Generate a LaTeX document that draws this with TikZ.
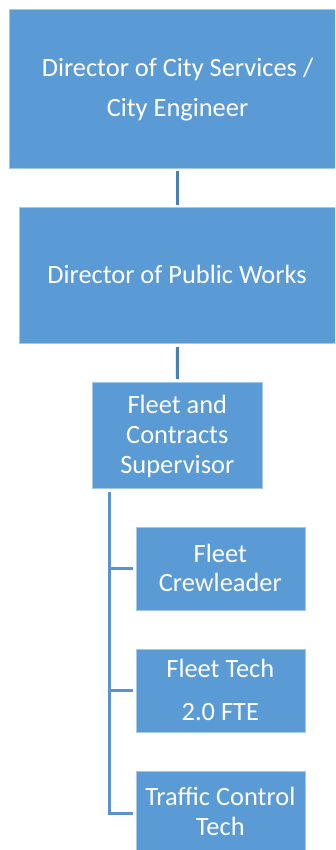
\documentclass[tikz,border=0pt]{standalone}
\usepackage{fontspec}
\setmainfont{Carlito}
\definecolor{boxblue}{HTML}{5B9BD5}
\definecolor{linkdark}{HTML}{4A7EB6}
\definecolor{linktree}{HTML}{5A93CD}
\begin{document}
\begin{tikzpicture}[x=1pt, y=-1pt,
  orgbox/.style={fill=boxblue, draw=white!45!boxblue, line width=0.8pt, inner sep=0pt},
  lbl/.style={text=white, anchor=base, inner sep=0pt, font=\fontsize{26.4}{30}\selectfont},
  upper link/.style={draw=linkdark, line width=3pt},
  tree link/.style={draw=linktree, line width=3pt}]
  \useasboundingbox (0,0) rectangle (335,850);
  \clip (0,0) rectangle (335,850);
  \fill[white] (0,0) rectangle (335,850);

  % boxes
  \node[orgbox, minimum width=337pt, minimum height=159pt] (dcs) at (177.5,88.5) {};
  \node[orgbox, minimum width=317pt, minimum height=136pt] (dpw) at (177.5,275) {};
  \node[orgbox, minimum width=169.3pt, minimum height=105.3pt] (fcs) at (177.4,435.35) {};
  \node[orgbox, minimum width=169pt, minimum height=82.3pt] (fcl) at (220.5,568.85) {};
  \node[orgbox, minimum width=169pt, minimum height=83pt] (ft) at (220.5,690.8) {};
  \node[orgbox, minimum width=169pt, minimum height=83pt] (tct) at (220.5,813.2) {};

  % labels
  \node[lbl] (dcs1) at (177.5,76.3) {Director of City Services /};
  \node[lbl] (dcs2) at (177.5,117) {City Engineer};
  \node[lbl] (dpw1) at (177,283.5) {Director of Public Works};
  \node[lbl] (fcs1) at (177.3,413.8) {Fleet and};
  \node[lbl] (fcs2) at (177.3,443) {Contracts};
  \node[lbl] (fcs3) at (177.3,473) {Supervisor};
  \node[lbl] (fcl1) at (220.3,562.7) {Fleet};
  \node[lbl] (fcl2) at (220.3,591) {Crewleader};
  \node[lbl] (ft1) at (220.3,677.7) {Fleet Tech};
  \node[lbl] (ft2) at (220.3,720) {2.0 FTE};
  \node[lbl] (tct1) at (220.3,805.5) {Traffic Control};
  \node[lbl] (tct2) at (220.3,835.2) {Tech};

  % reporting lines
  \draw[upper link, shorten <=3pt, shorten >=2pt] (dcs.south) -- (dpw.north);
  \draw[upper link, shorten <=3.7pt, shorten >=3.3pt] (dpw.south) -- (fcs.north);

  \coordinate (trunk) at (109,491.7);
  \coordinate (bend) at (109,813.2);
  \draw[tree link] (trunk) -- (bend) -- ([xshift=-2.7pt]tct.west);
  \draw[tree link] (trunk |- fcl.west) -- ([xshift=-2.7pt]fcl.west);
  \draw[tree link] (trunk |- ft.west) -- ([xshift=-2.7pt]ft.west);
\end{tikzpicture}
\end{document}
